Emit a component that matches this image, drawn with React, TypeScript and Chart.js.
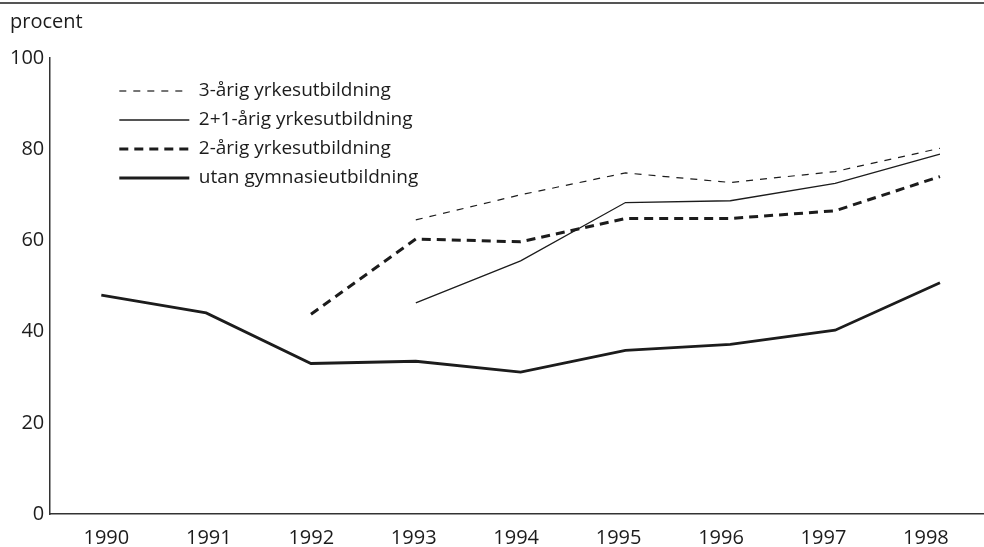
import React, { useEffect, useRef } from "react";
import { Chart, registerables } from "chart.js";

Chart.register(...registerables);

const years = [1990, 1991, 1992, 1993, 1994, 1995, 1996, 1997, 1998];
const treArig = [null, null, null, 64.5, 70.0, 74.8, 72.7, 75.1, 80.2];
const tvaPlusEtt = [null, null, null, 46.3, 55.5, 68.3, 68.7, 72.5, 78.9];
const tvaArig = [null, null, 43.8, 60.3, 59.7, 64.8, 64.8, 66.5, 74.0];
const utanGymnasie = [48.0, 44.1, 33.0, 33.5, 31.1, 35.9, 37.2, 40.3, 50.7];
const seriesLabels = [
  "3-årig yrkesutbildning",
  "2+1-årig yrkesutbildning",
  "2-årig yrkesutbildning",
  "utan gymnasieutbildning",
];
const yTicks = [0, 20, 40, 60, 80, 100];
const yTitle = "procent";

const FONT = "'Open Sans', 'DejaVu Sans', sans-serif";
const INK = "#1c1c1c";

const toPoints = (arr: (number | null)[]) =>
  years.map((yr, i) => ({ x: yr, y: arr[i] }));

const boxPlacement = {
  id: "boxPlacement",
  afterLayout(chart: any) {
    const ca = chart.chartArea;
    const lg = chart.legend;
    if (lg) {
      const h = lg.height;
      lg.left = ca.left + 60;
      lg.top = ca.top + 13.5;
      lg.right = lg.left + lg.width;
      lg.bottom = lg.top + h;
    }
    const tb = chart.titleBlock;
    if (tb) {
      tb.left = 10;
    }
  },
};

export default function App() {
  const canvasRef = useRef<HTMLCanvasElement | null>(null);

  useEffect(() => {
    if (!canvasRef.current) return;
    const mk = (
      label: string,
      arr: (number | null)[],
      width: number,
      dash: number[]
    ) => ({
      label,
      data: toPoints(arr),
      borderColor: INK,
      backgroundColor: INK,
      borderWidth: width,
      borderDash: dash,
      pointRadius: 0,
      pointHoverRadius: 0,
      tension: 0,
      fill: false,
      spanGaps: false,
    });
    const datasets = [
      mk(seriesLabels[0], treArig, 1.2, [7, 7]),
      mk(seriesLabels[1], tvaPlusEtt, 1.3, []),
      mk(seriesLabels[2], tvaArig, 3, [9, 6]),
      mk(seriesLabels[3], utanGymnasie, 2.8, []),
    ];

    const chart = new Chart(canvasRef.current, {
      type: "line",
      data: { datasets },
      plugins: [boxPlacement],
      options: {
        animation: false,
        responsive: true,
        maintainAspectRatio: false,
        layout: { padding: { top: 0, left: 5, right: 0, bottom: -15 } },
        plugins: {
          tooltip: { enabled: false },
          title: {
            display: true,
            text: yTitle,
            align: "start",
            color: INK,
            font: { family: FONT, size: 20, weight: "normal", lineHeight: 1.2 },
            padding: { top: 10, bottom: 24 },
          },
          legend: {
            display: true,
            position: "chartArea",
            align: "start",
            labels: {
              color: INK,
              font: { family: FONT, size: 19, lineHeight: 1.2 },
              usePointStyle: true,
              pointStyle: "line",
              pointStyleWidth: 70,
              padding: 10,
              generateLabels: (ch: any) =>
                ch.data.datasets.map((ds: any, i: number) => ({
                  text: ds.label,
                  fillStyle: ds.borderColor,
                  strokeStyle: ds.borderColor,
                  lineWidth: ds.borderWidth,
                  lineDash: ds.borderDash,
                  lineCap: "butt",
                  pointStyle: "line",
                  fontColor: INK,
                  hidden: false,
                  datasetIndex: i,
                })),
            },
          },
        },
        scales: {
          x: {
            type: "linear",
            display: false,
            min: 1989.504,
            max: 1998.42,
          },
          xl: {
            type: "linear",
            position: "bottom",
            min: 1989.443,
            max: 1998.567,
            afterBuildTicks: (scale: any) => {
              scale.ticks = years.map((v) => ({ value: v }));
            },
            grid: { display: false, drawTicks: false },
            border: { display: true, color: "#333", width: 1.6 },
            ticks: {
              color: INK,
              padding: 14,
              maxRotation: 0,
              autoSkip: false,
              font: { family: FONT, size: 20, lineHeight: 1.0 },
              callback: (v: any) => String(v),
            },
          },
          y: {
            type: "linear",
            min: 0,
            max: 100,
            afterBuildTicks: (scale: any) => {
              scale.ticks = yTicks.map((v) => ({ value: v }));
            },
            grid: { display: false, drawTicks: false },
            border: { display: true, color: "#333", width: 1.5 },
            ticks: {
              color: INK,
              padding: 5,
              font: { family: FONT, size: 20, lineHeight: 1.2 },
              callback: (v: any) => String(v),
            },
          },
        },
      },
    } as any);
    return () => chart.destroy();
  }, []);

  return (
    <div
      style={{
        position: "fixed",
        left: 0,
        top: 0,
        width: 984,
        height: 547,
        background: "#fff",
      }}
    >
      <canvas ref={canvasRef} />
      <div
        style={{
          position: "absolute",
          left: 0,
          top: 2,
          width: 984,
          height: 0,
          borderTop: "2px solid #555",
        }}
      />
    </div>
  );
}
